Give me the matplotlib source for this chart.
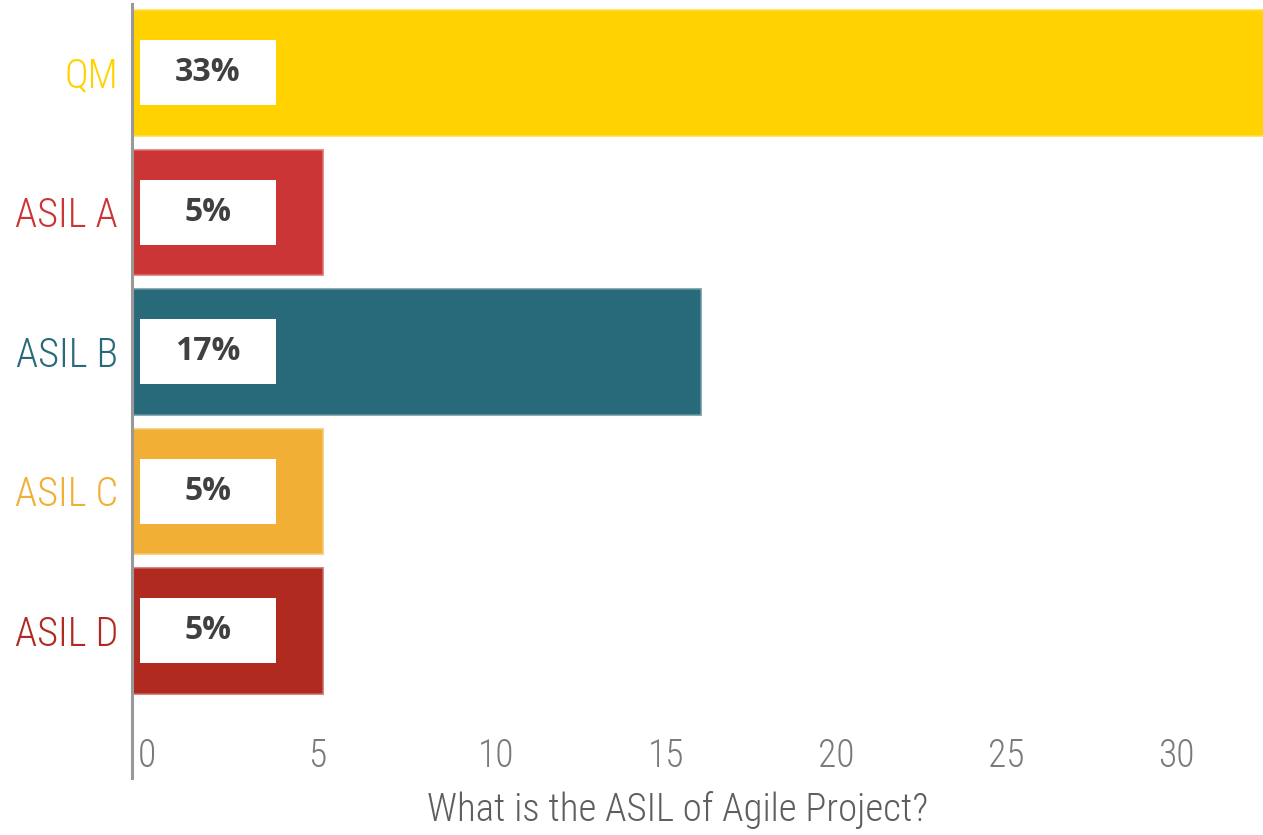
import matplotlib
matplotlib.use("Agg")
import matplotlib.pyplot as plt
import matplotlib.transforms as mtransforms
from matplotlib.colors import to_rgba
from matplotlib import font_manager as fm

categories = ["QM", "ASIL A", "ASIL B", "ASIL C", "ASIL D"]
values = [33.3, 5.6, 16.7, 5.6, 5.6]
value_labels = ["33%", "5%", "17%", "5%", "5%"]
colors = ["#FFD200", "#CC3535", "#286A79", "#F2AF35", "#B02A20"]
xticks = [0, 5, 10, 15, 20, 25, 30]
xlabel = "What is the ASIL of Agile Project?"

# pick a condensed face if one is installed
names = {f.name for f in fm.fontManager.ttflist}
prefs = ["Liberation Sans Narrow", "Roboto Condensed", "Noto Sans ExtraCondensed",
         "Noto Sans Condensed", "Open Sans Condensed", "DejaVu Sans Condensed",
         "Noto Sans SemiCondensed", "Open Sans SemiCondensed"]
narrow_name = next((p for p in prefs if p in names), None)
if narrow_name is None:
    cands = sorted(n for n in names if ("Condensed" in n or "Narrow" in n) and "CJK" not in n)
    narrow_name = cands[0] if cands else "DejaVu Sans"
narrow = [narrow_name, "DejaVu Sans"]
bold_font = ["Open Sans", "DejaVu Sans"]

W, H = 1263, 835
fig = plt.figure(figsize=(W / 100, H / 100), dpi=100)
left_px, right_px, top_px, bottom_px = 132, 1263, 4, 778
ax = fig.add_axes([left_px / W, 1 - bottom_px / H,
                   (right_px - left_px) / W, (bottom_px - top_px) / H])

y = list(range(len(categories)))
for yi, v, c in zip(y, values, colors):
    ax.barh(yi, v, height=0.89, color=c,
            edgecolor=to_rgba(c, 0.55), linewidth=2.2, zorder=2)
    ax.barh(yi, 4.0, left=0.23, height=0.466, color="white", zorder=3)

for yi, lab in zip(y, value_labels):
    ax.text(2.23, yi, lab, ha="center", va="center", fontsize=23,
            fontweight="bold", color="#404040", family=bold_font, zorder=4)

ax.set_xlim(0, 33.26)
ax.set_ylim(len(categories) - 1 + 1.057, -0.491)

ax.set_yticks(y)
ax.set_yticklabels(categories, family=narrow, fontsize=29, fontweight="light")
for lbl, c in zip(ax.get_yticklabels(), colors):
    lbl.set_color(c)
ax.tick_params(axis="y", length=0, pad=10)

ax.set_xticks(xticks)
ax.set_xticklabels([str(t) for t in xticks], family=narrow, fontsize=27,
                   fontweight="light", color="#7a7a7a")
ax.tick_params(axis="x", length=0, pad=-29)
offset = mtransforms.ScaledTranslation(6 / 100, 0, fig.dpi_scale_trans)
for lbl in ax.get_xticklabels():
    lbl.set_horizontalalignment("left")
    lbl.set_transform(lbl.get_transform() + offset)

for s in ["top", "right", "bottom"]:
    ax.spines[s].set_visible(False)
ax.spines["left"].set_color("#999999")
ax.spines["left"].set_linewidth(2.2)

fig.text(678 / W, 1 - 810 / H, xlabel, ha="center", va="center",
         family=narrow, fontsize=28, fontweight="light", color="#5e5e5e")

fig.savefig("out.png", dpi=100)
